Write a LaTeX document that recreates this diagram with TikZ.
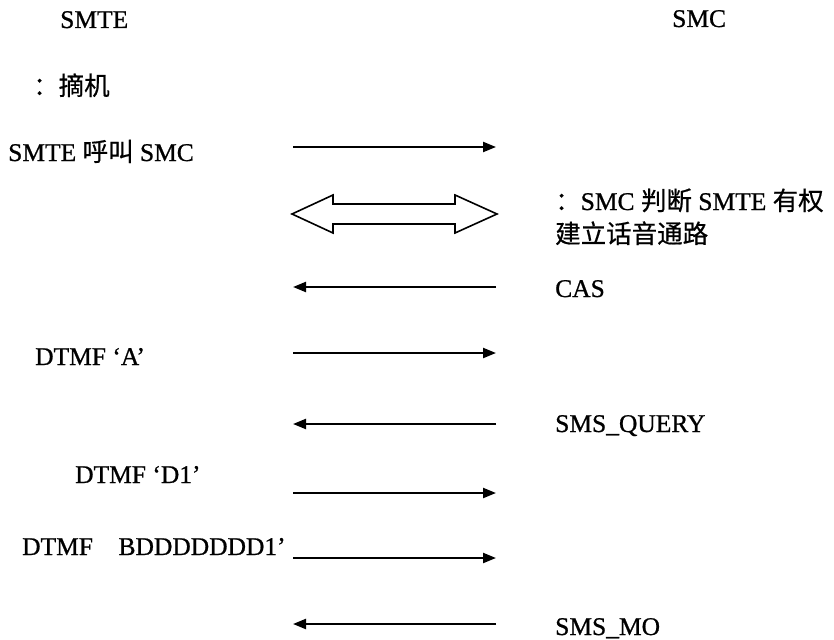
\documentclass[tikz,border=0pt]{standalone}
\usepackage{fontspec}
\setmainfont{Liberation Serif}[FakeBold=0.8]
\newfontfamily\cjk{Noto Sans CJK SC}[FakeBold=0.6]
\newcommand{\zh}[1]{{\cjk #1}}
\usetikzlibrary{arrows.meta}

\begin{document}
\begin{tikzpicture}[x=1pt, y=-1pt, font=\fontsize{25.5}{33}\selectfont, >={Triangle[length=13pt,width=10pt]}]
\tikzset{lbl/.style={anchor=base west, inner sep=0pt}, msg/.style={->, line width=2.2pt}}
\useasboundingbox (0,0) rectangle (834,639);
% entities
\node[lbl] (smte) at (60,28) {SMTE};
\node[lbl] (smc) at (672,27) {SMC};
% SMTE side
\node[lbl] (hook) at (33,95) {\zh{：摘机}};
\node[lbl] (call) at (8,161) {SMTE \zh{呼叫} SMC};
\node[lbl] (dtA) at (35,365) {DTMF ‘A’};
\node[lbl] (dtD) at (75,483) {DTMF ‘D1’};
\node[lbl] (dtB) at (22,555) {DTMF\quad BDDDDDDD1’};
% SMC side
\node[lbl, align=left] (auth) at (555,243) {\zh{：}SMC \zh{判断} SMTE \zh{有权}\\\zh{建立话音通路}};
\node[lbl] (cas) at (555,297) {CAS};
\node[lbl] (query) at (555,432) {SMS\_QUERY};
\node[lbl] (mo) at (555,635) {SMS\_MO};
% message ends
\foreach \n/\y in {call/147, cas/287, dtA/353, query/424, dtD/493, dtB/558, mo/624} {
  \coordinate (\n l) at (293,\y);
  \coordinate (\n r) at (496,\y);
}
\foreach \n in {call, dtA, dtD, dtB} \draw[msg] (\n l) -- (\n r);
\foreach \n in {cas, query, mo} \draw[msg] (\n r) -- (\n l);
% voice path
\draw[line width=1.6pt] (292,214) -- (333,195) -- (333,204) -- (455,204) -- (455,195) -- (497,214)
  -- (455,233) -- (455,224) -- (333,224) -- (333,233) -- cycle;
\end{tikzpicture}
\end{document}
